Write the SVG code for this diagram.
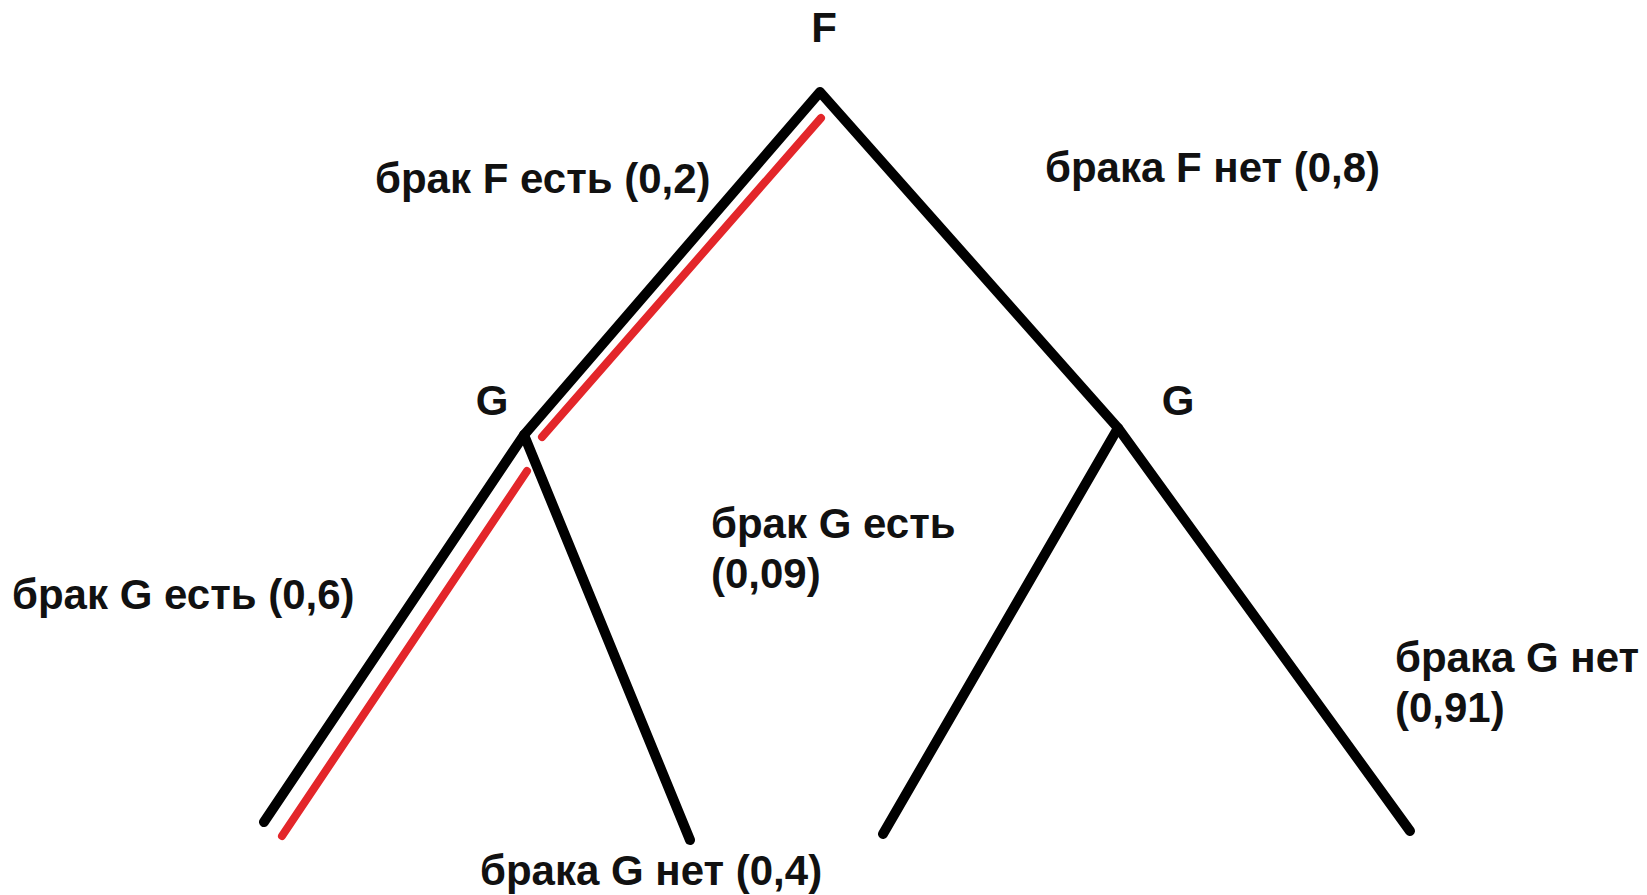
<svg xmlns="http://www.w3.org/2000/svg" width="1647" height="895" viewBox="0 0 1647 895">
<style>
.lbl{font-family:"Liberation Sans",Arial,sans-serif;font-weight:bold;font-size:42px;fill:#111}
.blk{stroke:#000;stroke-width:10;fill:none;stroke-linecap:round;stroke-linejoin:round}
.red{stroke:#e3262a;stroke-width:8;fill:none;stroke-linecap:round}
</style>
<rect width="1647" height="895" fill="#fff"/>
<g id="connectors">
<polyline class="blk" points="264,822 524,435 820,92 1118,428 1410,831"/>
<line class="blk" x1="524" y1="435" x2="690" y2="840"/>
<line class="blk" x1="1118" y1="428" x2="883" y2="834"/>
<line class="red" x1="821" y1="118" x2="542" y2="437"/>
<line class="red" x1="527" y1="471" x2="282" y2="836"/>
</g>
<g id="node-F"><text class="lbl" x="824" y="42" text-anchor="middle">F</text></g>
<g id="node-G-left"><text class="lbl" x="492" y="415" text-anchor="middle">G</text></g>
<g id="node-G-right"><text class="lbl" x="1178" y="415" text-anchor="middle">G</text></g>
<g id="labels">
<text class="lbl" x="375" y="193">брак F есть (0,2)</text>
<text class="lbl" x="1045" y="182">брака F нет (0,8)</text>
<text class="lbl" x="711" y="538">брак G есть</text>
<text class="lbl" x="711" y="588">(0,09)</text>
<text class="lbl" x="12" y="609">брак G есть (0,6)</text>
<text class="lbl" x="1395" y="672">брака G нет</text>
<text class="lbl" x="1395" y="722">(0,91)</text>
<text class="lbl" x="480" y="885">брака G нет (0,4)</text>
</g>
</svg>
